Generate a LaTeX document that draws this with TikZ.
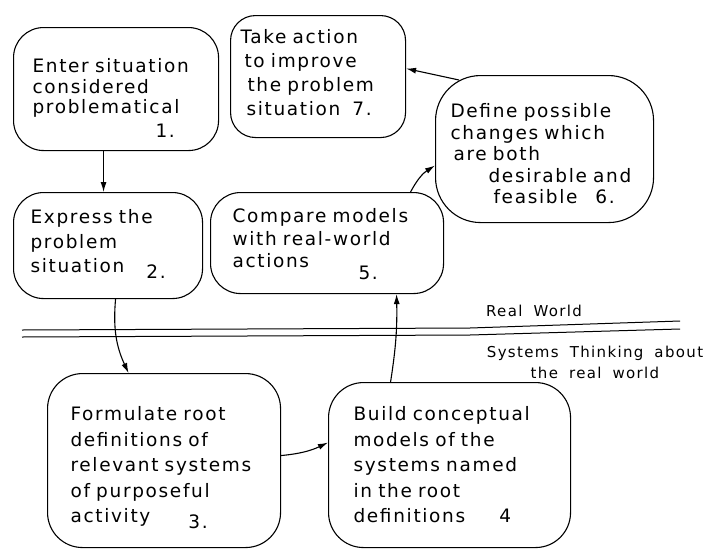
\documentclass[tikz,border=0pt]{standalone}
\usepackage{fontspec}
\setmainfont{DejaVu Sans}[LetterSpace=9,WordSpace=1.8]
\usetikzlibrary{arrows.meta}

\begin{document}
\begin{tikzpicture}[x=1pt, y=-1pt,
  stage/.style={draw, line width=1.1pt, rounded corners=30pt, anchor=north west,
    inner ysep=0pt, align=left, font=\fontsize{18.5}{#1}\selectfont},
  flow/.style={line width=1.1pt, -{Latex[length=10pt,width=6pt]}},
  divider/.style={line width=1pt},
  side/.style={font=\fontsize{15}{21}\selectfont}]
 \useasboundingbox (0,0) rectangle (709,549);
 % stages above the line
 \node[stage=20.5, inner xsep=19pt, text width=167pt, text height=45pt, text depth=78pt] (enter) at (13,27)
   {Enter situation\\considered\\problematical\\[3pt]\hspace*{123pt}1.};
 \node[stage=24.5, inner xsep=17pt, text width=155pt, text height=31pt, text depth=75pt] (express) at (13,192)
   {Express the\\problem\\situation\hspace{22pt}\raisebox{-6pt}{2.}};
 \node[stage=22.5, inner xsep=22pt, text width=189pt, text height=30pt, text depth=71pt] (compare) at (210,192)
   {Compare models\\with real-world\\actions\\[-11pt]\hspace*{126pt}5.};
 \node[stage=21.5, inner xsep=15pt, text width=188pt, text height=42pt, text depth=105pt, rounded corners=45pt] (define) at (435,75)
   {Define possible\\changes which\\\hspace*{3pt}are both\\\hspace*{38pt}desirable and\\\hspace*{43pt}feasible\hspace{18pt}6.};
 \node[stage=24, inner xsep=10pt, text width=155pt, text height=28pt, text depth=94pt, rounded corners=25pt] (act) at (230,15)
   {Take action\\\hspace*{4pt}to improve\\\hspace*{7pt}the problem\\\hspace*{6pt}situation\hspace{12pt}7.};
 % stages below the line
 \node[stage=25.5, inner xsep=23pt, text width=187pt, text height=47pt, text depth=127pt, rounded corners=35pt] (formulate) at (47,373)
   {Formulate root\\definitions of\\relevant systems\\of purposeful\\activity\hspace{38pt}\raisebox{-6pt}{3.}};
 \node[stage=25.5, inner xsep=25pt, text width=192pt, text height=38pt, text depth=127pt, rounded corners=35pt] (build) at (328,382)
   {Build conceptual\\models of the\\systems named\\in the root\\definitions\hspace{34pt}4};
 % the line between the two worlds
 \draw[divider] (22,330) -- (470,328) -- (680,321);
 \draw[divider] (22,337) -- (470,335) -- (680,329);
 \node[side] (real) at (534,311) {Real World};
 \node[side, align=center] (systems) at (595,362) {Systems Thinking about\\the real world};
 % the cycle
 \draw[flow] ([xshift=-12.5pt]enter.south) -- ([xshift=-4.5pt]express.north);
 \draw[flow] ([xshift=7.5pt]express.south) to[bend right=15] ([xshift=-35.5pt]formulate.north);
 \draw[flow] ([yshift=5pt]formulate.east) to[bend right=10] ([yshift=22.5pt]build.west);
 \draw[flow] ([xshift=-59pt]build.north) to[bend right=5] ([xshift=69.5pt]compare.south);
 \draw[flow] ([xshift=83.5pt]compare.north) to[bend left=15] ([yshift=-16.5pt]define.west);
 \draw[flow] ([shift={(24pt,-5pt)}]define.north west) -- ([yshift=8pt]act.east);
\end{tikzpicture}
\end{document}
